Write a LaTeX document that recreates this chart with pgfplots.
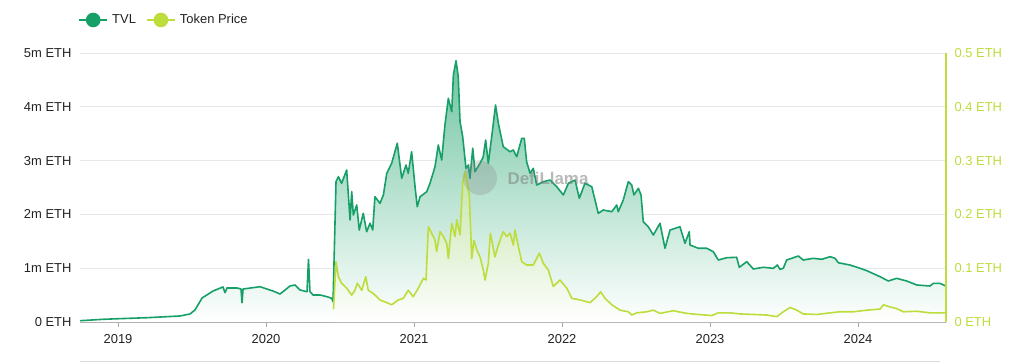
\documentclass[border=0pt]{standalone}
\usepackage{pgfplots}
\usepackage{pgfplotstable}
\pgfplotsset{compat=1.18}
\usepackage{fontspec}
\setmainfont{Liberation Sans}
\definecolor{tvl}{HTML}{16A068}
\definecolor{price}{HTML}{BCDD3C}
\definecolor{gridc}{HTML}{E8E8E8}
\definecolor{axisc}{HTML}{A8A8A8}
\definecolor{txt}{HTML}{222222}

\pgfplotstableread{
x y
2018.743 0.024
2018.899 0.050
2019.000 0.061
2019.196 0.080
2019.419 0.112
2019.486 0.149
2019.520 0.223
2019.568 0.446
2019.642 0.576
2019.709 0.651
2019.723 0.545
2019.736 0.632
2019.804 0.632
2019.831 0.613
2019.838 0.359
2019.845 0.613
2019.959 0.656
2020.047 0.576
2020.095 0.520
2020.162 0.669
2020.196 0.688
2020.230 0.595
2020.277 0.563
2020.287 1.165
2020.297 0.563
2020.318 0.502
2020.365 0.502
2020.412 0.470
2020.444 0.441
2020.453 0.377
2020.473 2.608
2020.489 2.701
2020.511 2.578
2020.545 2.825
2020.568 1.896
2020.579 2.422
2020.590 1.989
2020.613 2.175
2020.630 1.710
2020.657 2.020
2020.680 1.678
2020.703 1.835
2020.721 1.710
2020.736 2.329
2020.770 2.206
2020.793 2.361
2020.816 2.764
2020.849 2.950
2020.887 3.322
2020.917 2.671
2020.946 2.918
2020.961 2.764
2020.984 3.165
2021.007 2.515
2021.022 2.143
2021.041 2.329
2021.086 2.422
2021.108 2.578
2021.142 2.887
2021.164 3.290
2021.187 3.011
2021.209 3.662
2021.232 4.158
2021.255 3.909
2021.266 4.591
2021.284 4.857
2021.299 4.559
2021.311 3.723
2021.329 3.444
2021.351 2.857
2021.367 2.918
2021.378 2.671
2021.397 3.229
2021.412 2.794
2021.446 2.950
2021.468 3.072
2021.484 3.383
2021.502 2.950
2021.525 3.444
2021.551 4.033
2021.570 3.693
2021.603 3.258
2021.649 3.165
2021.671 3.197
2021.694 3.072
2021.728 3.414
2021.745 3.414
2021.761 2.980
2021.784 2.764
2021.806 2.857
2021.829 2.546
2021.874 2.608
2021.919 2.639
2021.964 2.515
2022.009 2.361
2022.043 2.578
2022.088 2.639
2022.117 2.299
2022.155 2.578
2022.201 2.515
2022.245 2.020
2022.279 2.082
2022.336 2.050
2022.370 2.175
2022.380 2.050
2022.414 2.268
2022.448 2.608
2022.471 2.546
2022.486 2.361
2022.516 2.485
2022.534 2.361
2022.549 1.864
2022.583 1.771
2022.617 1.617
2022.662 1.835
2022.696 1.370
2022.730 1.710
2022.797 1.771
2022.831 1.463
2022.860 1.678
2022.865 1.431
2022.921 1.370
2022.978 1.370
2023.022 1.307
2023.056 1.152
2023.113 1.195
2023.180 1.203
2023.198 1.017
2023.248 1.121
2023.293 0.985
2023.360 1.017
2023.428 0.998
2023.455 1.059
2023.473 0.980
2023.495 0.998
2023.518 1.152
2023.597 1.227
2023.630 1.152
2023.698 1.184
2023.755 1.165
2023.811 1.214
2023.845 1.184
2023.867 1.102
2023.946 1.059
2024.014 0.998
2024.059 0.954
2024.149 0.842
2024.205 0.762
2024.261 0.812
2024.329 0.762
2024.397 0.688
2024.486 0.669
2024.509 0.719
2024.554 0.719
2024.588 0.675
}\tvldata

\pgfplotstableread{
x y
2020.456 0.024
2020.473 0.112
2020.489 0.084
2020.511 0.072
2020.545 0.063
2020.579 0.050
2020.601 0.059
2020.617 0.072
2020.647 0.059
2020.674 0.084
2020.691 0.059
2020.725 0.053
2020.770 0.041
2020.816 0.036
2020.849 0.032
2020.894 0.041
2020.928 0.044
2020.961 0.059
2020.995 0.047
2021.029 0.063
2021.063 0.081
2021.081 0.078
2021.097 0.177
2021.119 0.165
2021.142 0.152
2021.153 0.131
2021.176 0.168
2021.198 0.159
2021.221 0.146
2021.232 0.118
2021.255 0.183
2021.277 0.159
2021.289 0.190
2021.311 0.162
2021.329 0.258
2021.345 0.279
2021.360 0.258
2021.374 0.233
2021.390 0.118
2021.405 0.152
2021.424 0.134
2021.446 0.121
2021.468 0.097
2021.480 0.078
2021.502 0.109
2021.516 0.165
2021.547 0.121
2021.570 0.143
2021.603 0.168
2021.626 0.159
2021.649 0.165
2021.671 0.143
2021.682 0.171
2021.705 0.140
2021.728 0.112
2021.761 0.106
2021.806 0.106
2021.847 0.128
2021.874 0.109
2021.907 0.097
2021.941 0.066
2021.986 0.078
2022.032 0.063
2022.066 0.044
2022.122 0.041
2022.189 0.036
2022.234 0.047
2022.261 0.056
2022.291 0.044
2022.336 0.032
2022.392 0.022
2022.448 0.019
2022.471 0.013
2022.505 0.017
2022.572 0.019
2022.617 0.022
2022.662 0.016
2022.752 0.021
2022.843 0.016
2022.921 0.014
2023.011 0.012
2023.056 0.017
2023.135 0.017
2023.203 0.015
2023.293 0.014
2023.383 0.013
2023.451 0.010
2023.495 0.019
2023.541 0.027
2023.586 0.022
2023.630 0.015
2023.721 0.014
2023.811 0.017
2023.878 0.019
2023.968 0.019
2024.059 0.022
2024.149 0.024
2024.171 0.032
2024.216 0.028
2024.261 0.025
2024.306 0.019
2024.397 0.020
2024.486 0.017
2024.588 0.017
}\pricedata

\begin{document}
\begin{tikzpicture}[x=1bp,y=1bp]
\useasboundingbox (0,0) rectangle (1024,363);
\pgfplotsset{
  common/.style={
    at={(80bp,41bp)}, anchor=south west,
    scale only axis, width=866bp, height=269bp,
    xmin=2018.7432, xmax=2024.5946,
    tick label style={font=\fontsize{13}{15}\selectfont},
  },
}
\begin{axis}[common,
  ymin=0, ymax=5,
  axis x line*=bottom, axis y line*=left,
  x axis line style={-, axisc, line width=0.8bp},
  y axis line style={draw=none},
  xtick={2019,2020,2021,2022,2023,2024},
  xticklabels={2019,2020,2021,2022,2023,2024},
  xticklabel style={txt, yshift=-4bp},
  tick align=outside, major tick length=5bp,
  xtick style={axisc, line width=0.8bp},
  ytick={0,1,2,3,4,5},
  yticklabels={0 ETH,1m ETH,2m ETH,3m ETH,4m ETH,5m ETH},
  yticklabel style={txt},
  ytick style={draw=none},
  ymajorgrids, grid style={gridc, line width=0.8bp},
  legend image code/.code={
    \draw[line width=2bp] (0bp,0bp) -- (28bp,0bp);
    \fill (14bp,0bp) circle (6.5bp);
  },
  legend style={at={(-0.0023,1.1227)}, anchor=west, draw=none, fill=none,
    inner sep=0pt, font=\fontsize{13}{15}\selectfont, text=txt,
    /tikz/every odd column/.append style={column sep=2bp},
    /tikz/every even column/.append style={column sep=8bp}},
  legend columns=2,
  legend cell align=left,
]
\addplot[draw=none, top color=tvl!62!white, bottom color=white, forget plot]
  table {\tvldata} \closedcycle;
\addplot[tvl, line width=1.6bp, line join=round] table {\tvldata};
\addlegendentry{TVL}
\addlegendimage{price, line width=1.6bp}
\addlegendentry{Token Price}
\end{axis}

\begin{axis}[common,
  ymin=0, ymax=0.5,
  axis x line=none, axis y line*=right,
  y axis line style={-, price, line width=1.2bp},
  ytick={0,0.1,0.2,0.3,0.4,0.5},
  yticklabels={0 ETH,0.1 ETH,0.2 ETH,0.3 ETH,0.4 ETH,0.5 ETH},
  yticklabel style={price, xshift=5bp},
  ytick style={draw=none},
]
\addplot[draw=none, top color=price!55!white, bottom color=white, fill opacity=0.55]
  table {\pricedata} \closedcycle;
\addplot[price, line width=1.6bp, line join=round] table {\pricedata};
\end{axis}

% DefiLlama watermark
\fill[gray, opacity=0.25] (480,185) circle (17);
\node[anchor=west, text=gray, opacity=0.55, font=\bfseries\fontsize{17}{19}\selectfont] at (504,185) {DefiLlama};
\draw[gray!30, line width=1bp] (80,1.5) -- (940,1.5);
\end{tikzpicture}
\end{document}
